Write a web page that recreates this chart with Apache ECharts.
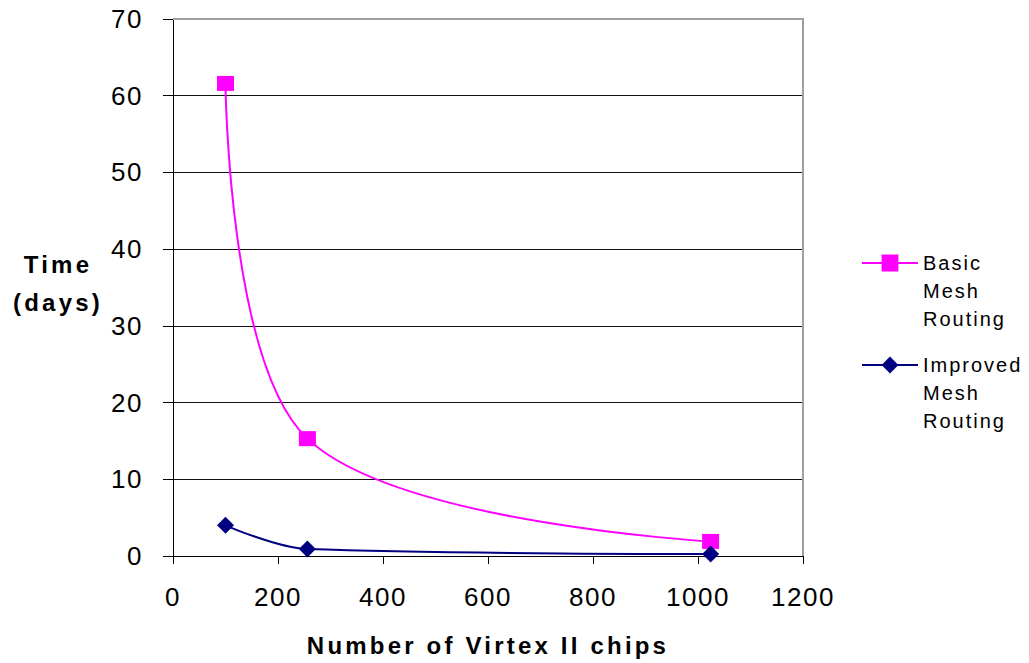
<!DOCTYPE html>
<html lang="en">
<head>
	<meta charset="UTF-8">
	<title>Routing time</title>
	<script type="text/javascript" src="https://cdn.jsdelivr.net/npm/echarts@6/dist/echarts.min.js"></script>
	<style type="text/css">
	html,body{margin: 0;padding: 0;background: #fff;}
	#container{width: 1029px;height: 663px;}
	/* the original text is set loose, so space the letters out a bit */
	#container text{letter-spacing: 1.5px;}
	#container text[style*="20px"]{letter-spacing: 2px;}
	#container text[style*="bold"]{letter-spacing: 3.2px;}
	</style>
</head>
<body>
	<div id="container"></div>
	<script type="text/javascript">
		// chips -> days
		var chips = [100, 256, 1024];
		var basicMesh = [61.6, 15.3, 1.9];
		var improvedMesh = [4.0, 0.9, 0.26];
		var xTicks = [0, 200, 400, 600, 800, 1000, 1200];
		var yTicks = [0, 10, 20, 30, 40, 50, 60, 70];

		function pairs(xs, ys){
			var out = [];
			for (var i = 0; i < xs.length; i++) {
				out.push([xs[i], ys[i]]);
			}
			return out;
		}

		var font = 'Liberation Sans, Arial, sans-serif';

		// legend text wraps one word per line, icon sits next to the first line
		// (two empty lines on top so the first word lands in the middle)
		function legendBox(name, top){
			return {
				orient: 'vertical',
				left: 861,
				top: top,
				padding: 0,
				itemWidth: 56,
				itemHeight: 21,
				textStyle: {fontSize: 20, color: '#000', lineHeight: 28, fontFamily: font},
				formatter: function(n){ return '\n\n' + n.split(' ').join('\n'); },
				data: [name]
			};
		}

		var myChart = echarts.init(document.getElementById('container'), null, {renderer: 'svg'});
		var option = {
			animation: false,
			textStyle: {fontFamily: font},
			grid: {left: 173, right: 226, top: 19, bottom: 107},
			legend: [
				legendBox('Basic Mesh Routing', 193),
				legendBox('Improved Mesh Routing', 295)
			],
			xAxis: {
				type: 'value',
				min: xTicks[0],
				max: xTicks[xTicks.length - 1],
				interval: 200,
				name: 'Number of Virtex II chips',
				nameLocation: 'middle',
				nameGap: 77,
				nameTextStyle: {fontSize: 24, fontWeight: 'bold', color: '#000'},
				axisLine: {lineStyle: {color: '#000', width: 1}},
				axisTick: {show: true, length: 8, lineStyle: {color: '#000'}},
				axisLabel: {fontSize: 26, color: '#000', margin: 28, formatter: function(v){ return String(v); }},
				splitLine: {show: false}
			},
			yAxis: {
				type: 'value',
				min: yTicks[0],
				max: yTicks[yTicks.length - 1],
				interval: 10,
				name: '{t|Time}\n{t|(days)}\n{s|}',
				nameLocation: 'middle',
				nameRotate: 0,
				nameGap: 115,
				nameTextStyle: {
					color: '#000', align: 'center',
					rich: {
						t: {fontSize: 24, fontWeight: 'bold', lineHeight: 38, color: '#000', fontFamily: font},
						s: {fontSize: 8, lineHeight: 8}
					}
				},
				axisLine: {show: true, lineStyle: {color: '#000', width: 1}},
				axisTick: {show: true, length: 10, lineStyle: {color: '#000'}},
				axisLabel: {fontSize: 26, color: '#000', margin: 30},
				splitLine: {show: true, lineStyle: {color: '#111', width: 1}}
			},
			graphic: [{
				type: 'polyline',
				silent: true,
				shape: {points: [[173, 19], [803, 19], [803, 556]]},
				style: {stroke: '#a0a0a0', lineWidth: 2, fill: null},
				z: 10
			}],
			series: [
				{
					name: 'Basic Mesh Routing',
					type: 'line',
					smooth: 0.35,
					data: pairs(chips, basicMesh),
					symbol: 'rect',
					symbolSize: [17, 15],
					itemStyle: {color: '#ff00ff'},
					lineStyle: {color: '#ff00ff', width: 2}
				},
				{
					name: 'Improved Mesh Routing',
					type: 'line',
					smooth: 0.35,
					data: pairs(chips, improvedMesh),
					symbol: 'diamond',
					symbolSize: [17, 17],
					itemStyle: {color: '#000080'},
					lineStyle: {color: '#000080', width: 2}
				}
			]
		};
		myChart.setOption(option);
	</script>
</body>
</html>
